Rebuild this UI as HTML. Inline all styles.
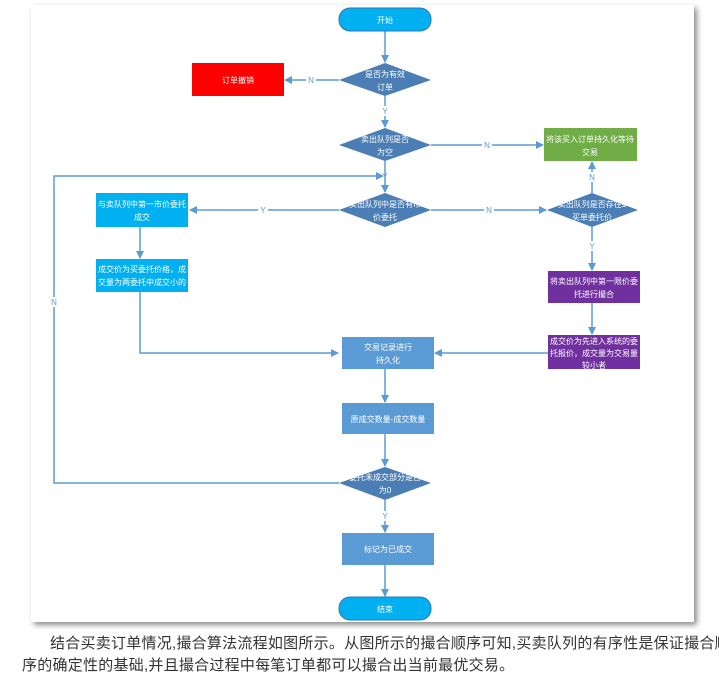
<!DOCTYPE html>
<html><head><meta charset="utf-8"><style>
body{margin:0;background:#fff;width:719px;height:683px;overflow:hidden;font-family:"Liberation Sans","Noto Sans CJK SC",sans-serif}
.cap{position:absolute;left:22px;font-size:15px;color:#333;white-space:nowrap;letter-spacing:0.25px}
</style></head><body>
<svg width="719" height="683" style="position:absolute;left:0;top:0" font-family="Liberation Sans, Noto Sans CJK SC, sans-serif">
<defs>
<marker id="a" markerWidth="8" markerHeight="8" refX="7" refY="4" orient="auto" markerUnits="userSpaceOnUse"><path d="M0,0 L8,4 L0,8z" fill="#5b9bd5"/></marker>
<filter id="sh" x="-5%" y="-5%" width="110%" height="110%"><feDropShadow dx="3" dy="3" stdDeviation="3" flood-color="#000" flood-opacity="0.45"/></filter>
</defs>
<rect x="31" y="5" width="663" height="617" fill="#fff" filter="url(#sh)"/>
<g stroke="#5b9bd5" stroke-width="1.5" fill="none">
<line x1="385" y1="31" x2="385" y2="62" marker-end="url(#a)"/>
<line x1="339" y1="80" x2="285" y2="80" marker-end="url(#a)"/>
<line x1="385" y1="96" x2="385" y2="127" marker-end="url(#a)"/>
<line x1="431" y1="145" x2="543" y2="145" marker-end="url(#a)"/>
<line x1="385" y1="161" x2="385" y2="192" marker-end="url(#a)"/>
<polyline points="339,483 54,483 54,176 383,176" marker-end="url(#a)"/>
<line x1="339" y1="210" x2="190" y2="210" marker-end="url(#a)"/>
<line x1="431" y1="210" x2="546" y2="210" marker-end="url(#a)"/>
<line x1="592" y1="193" x2="592" y2="162" marker-end="url(#a)"/>
<line x1="592" y1="227" x2="592" y2="270" marker-end="url(#a)"/>
<line x1="140" y1="227" x2="140" y2="258" marker-end="url(#a)"/>
<polyline points="140,292 140,353 338,353" marker-end="url(#a)"/>
<line x1="592" y1="303" x2="592" y2="334" marker-end="url(#a)"/>
<line x1="548" y1="353" x2="435" y2="353" marker-end="url(#a)"/>
<line x1="385" y1="369" x2="385" y2="402" marker-end="url(#a)"/>
<line x1="385" y1="434" x2="385" y2="466" marker-end="url(#a)"/>
<line x1="385" y1="500" x2="385" y2="532" marker-end="url(#a)"/>
<line x1="385" y1="565" x2="385" y2="596" marker-end="url(#a)"/>
</g>
<g font-size="8" fill="#5b9bd5" text-anchor="middle">
<rect x="306" y="75" width="10" height="10" fill="#fff"/><text x="311" y="83">N</text>
<rect x="380" y="106" width="10" height="10" fill="#fff"/><text x="385" y="114">Y</text>
<rect x="482" y="140" width="10" height="10" fill="#fff"/><text x="487" y="148">N</text>
<text x="385" y="179" fill="#5b9bd5">Y</text>
<rect x="258" y="205" width="10" height="10" fill="#fff"/><text x="263" y="213">Y</text>
<rect x="484" y="205" width="10" height="10" fill="#fff"/><text x="489" y="213">N</text>
<rect x="587" y="172" width="10" height="10" fill="#fff"/><text x="592" y="180">N</text>
<rect x="587" y="241" width="10" height="10" fill="#fff"/><text x="592" y="249">Y</text>
<rect x="49" y="297" width="10" height="10" fill="#fff"/><text x="54" y="305">N</text>
<rect x="380" y="511" width="10" height="10" fill="#fff"/><text x="385" y="519">Y</text>
</g>
<g>
<rect x="339" y="8" width="92" height="23" rx="11" fill="#00b0f0" stroke="#2e75b6"/>
<polygon points="385,63 431,80 385,96 339,80" fill="#4a7eb5"/>
<rect x="192" y="63" width="92" height="33" fill="#ff0000"/>
<polygon points="385,128 431,145 385,161 339,145" fill="#4a7eb5"/>
<rect x="544" y="128" width="93" height="33" fill="#70ad47"/>
<polygon points="385,193 431,210 385,227 339,210" fill="#4a7eb5"/>
<polygon points="592,193 638,210 592,227 547,210" fill="#4a7eb5"/>
<rect x="96" y="193" width="92" height="34" fill="#00b0f0"/>
<rect x="96" y="259" width="92" height="33" fill="#00b0f0"/>
<rect x="548" y="271" width="92" height="32" fill="#7030a0"/>
<rect x="548" y="335" width="92" height="34" fill="#7030a0"/>
<rect x="342" y="337" width="92" height="32" fill="#5b9bd5"/>
<rect x="342" y="403" width="92" height="31" fill="#5b9bd5"/>
<polygon points="385,467 431,483 385,500 339,483" fill="#4a7eb5"/>
<rect x="342" y="533" width="92" height="32" fill="#5b9bd5"/>
<rect x="339" y="597" width="92" height="23" rx="11" fill="#00b0f0" stroke="#2e75b6"/>
</g>
<g font-size="8" fill="#fff" text-anchor="middle">
<text x="385" y="23">开始</text>
<text x="385" y="77">是否为有效</text><text x="385" y="90">订单</text>
<text x="238" y="83">订单撤销</text>
<text x="385" y="142">卖出队列是否</text><text x="385" y="155">为空</text>
<text x="590" y="142">将该买入订单持久化等待</text><text x="590" y="155">交易</text>
<text x="385" y="207">卖出队列中是否有市</text><text x="385" y="220">价委托</text>
<text x="592" y="207">卖出队列是否存在≤</text><text x="592" y="220">买单委托价</text>
<text x="142" y="207">与卖队列中第一市价委托</text><text x="142" y="220">成交</text>
<text x="142" y="272">成交价为买委托价格，成</text><text x="142" y="285">交量为两委托中成交小的</text>
<text x="594" y="284">将卖出队列中第一限价委</text><text x="594" y="297">托进行撮合</text>
<text x="594" y="344">成交价为先进入系统的委</text><text x="594" y="356">托报价，成交量为交易量</text><text x="594" y="368">较小者</text>
<text x="388" y="350">交易记录进行</text><text x="388" y="363">持久化</text>
<text x="388" y="422">原成交数量-成交数量</text>
<text x="385" y="480">委托未成交部分是否</text><text x="385" y="493">为0</text>
<text x="388" y="552">标记为已成交</text>
<text x="385" y="612">结束</text>
</g>
</svg>
<div class="cap" style="top:632px;left:50px">结合买卖订单情况,撮合算法流程如图所示。从图所示的撮合顺序可知,买卖队列的有序性是保证撮合顺</div>
<div class="cap" style="top:654px">序的确定性的基础,并且撮合过程中每笔订单都可以撮合出当前最优交易。</div>
</body></html>
